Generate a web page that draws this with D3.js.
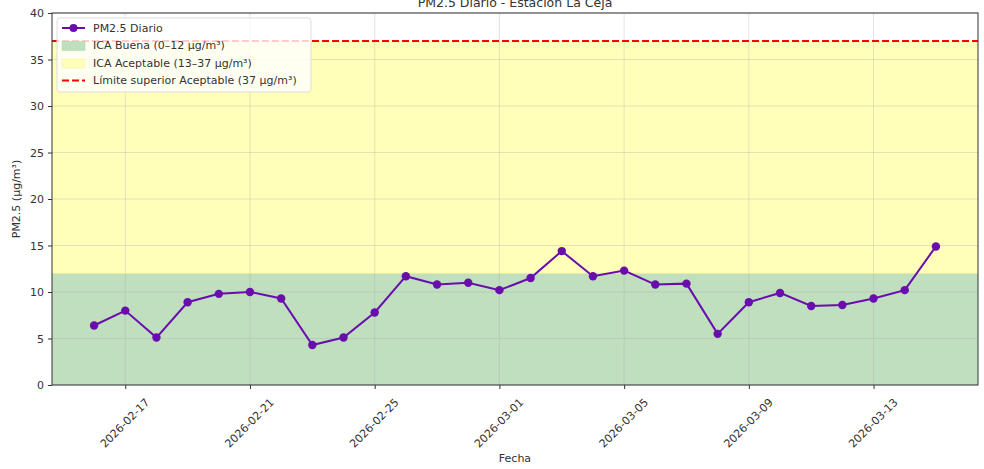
<!DOCTYPE html>
<html>
<head>
<meta charset="utf-8">
<script src="https://cdn.jsdelivr.net/npm/d3@7"></script>
<style>
  body { margin: 0; background: #fff; }
  text { font-family: "DejaVu Sans", sans-serif; fill: #333; }
</style>
</head>
<body>
<div id="chart"></div>
<script>
// daily PM2.5, 2026-02-16 .. 2026-03-15
var dates = ["2026-02-16","2026-02-17","2026-02-18","2026-02-19","2026-02-20","2026-02-21","2026-02-22",
  "2026-02-23","2026-02-24","2026-02-25","2026-02-26","2026-02-27","2026-02-28","2026-03-01",
  "2026-03-02","2026-03-03","2026-03-04","2026-03-05","2026-03-06","2026-03-07","2026-03-08",
  "2026-03-09","2026-03-10","2026-03-11","2026-03-12","2026-03-13","2026-03-14","2026-03-15"];
var pm25 = [6.4, 8.0, 5.1, 8.9, 9.8, 10.0, 9.3,
  4.3, 5.1, 7.8, 11.7, 10.8, 11.0, 10.2,
  11.5, 14.4, 11.7, 12.3, 10.8, 10.9, 5.5,
  8.9, 9.9, 8.5, 8.6, 9.3, 10.2, 14.9];
var xTickLabels = ["2026-02-17","2026-02-21","2026-02-25","2026-03-01","2026-03-05","2026-03-09","2026-03-13"];
var yTicks = [0, 5, 10, 15, 20, 25, 30, 35, 40];
var bands = [
  {name: "ICA Buena (0\u201312 \u00b5g/m\u00b3)", lo: 0, hi: 12, color: "rgb(191,223,191)"},
  {name: "ICA Aceptable (13\u201337 \u00b5g/m\u00b3)", lo: 12, hi: 37, color: "rgb(255,255,185)"}
];
var limit = 37;

var W = 984, H = 469;
var margin = {top: 13, right: 6, bottom: 84, left: 52};
var w = W - margin.left - margin.right,
    h = H - margin.top - margin.bottom;

var parse = d3.utcParse("%Y-%m-%d");
var data = dates.map(function(d, i){ return {date: parse(d), v: pm25[i]}; });

var svg = d3.select("#chart").append("svg")
  .attr("width", W).attr("height", H);

// title (partly off the top, as in the picture)
svg.append("text")
  .attr("x", margin.left + w/2).attr("y", 7)
  .attr("text-anchor", "middle")
  .style("font-size", "12.5px")
  .text("PM2.5 Diario - Estaci\u00f3n La Ceja");

var g = svg.append("g").attr("transform", "translate(" + margin.left + "," + margin.top + ")");

var ext = d3.extent(data, function(d){ return d.date; });
var pad = (ext[1] - ext[0]) * 0.05;
var x = d3.scaleUtc().domain([new Date(+ext[0] - pad), new Date(+ext[1] + pad)]).range([0, w]);
var y = d3.scaleLinear().domain([0, 40]).range([h, 0]);

// bands
g.selectAll(".band").data(bands).enter().append("rect")
  .attr("class", "band")
  .attr("x", 0).attr("width", w)
  .attr("y", function(d){ return y(d.hi); })
  .attr("height", function(d){ return y(d.lo) - y(d.hi); })
  .attr("fill", function(d){ return d.color; });
g.append("line")
  .attr("x1", 0).attr("x2", w).attr("y1", y(12)).attr("y2", y(12))
  .attr("stroke", "#e6ee9c").attr("stroke-width", 1);

// grid
var xTicks = xTickLabels.map(parse);
g.selectAll(".gx").data(xTicks).enter().append("line")
  .attr("x1", function(d){ return x(d); }).attr("x2", function(d){ return x(d); })
  .attr("y1", 0).attr("y2", h)
  .attr("stroke", "#b0b0b0").attr("stroke-opacity", 0.35);
g.selectAll(".gy").data(yTicks).enter().append("line")
  .attr("y1", function(d){ return y(d); }).attr("y2", function(d){ return y(d); })
  .attr("x1", 0).attr("x2", w)
  .attr("stroke", "#b0b0b0").attr("stroke-opacity", 0.35);

// limit line
g.append("line")
  .attr("x1", 0).attr("x2", w).attr("y1", y(limit)).attr("y2", y(limit))
  .attr("stroke", "red").attr("stroke-width", 2).attr("stroke-dasharray", "7,3");

// series
var purple = "#6a0dad";
g.append("path").datum(data)
  .attr("fill", "none").attr("stroke", purple).attr("stroke-width", 2)
  .attr("d", d3.line().x(function(d){ return x(d.date); }).y(function(d){ return y(d.v); }));
g.selectAll(".pt").data(data).enter().append("circle")
  .attr("cx", function(d){ return x(d.date); })
  .attr("cy", function(d){ return y(d.v); })
  .attr("r", 4.2).attr("fill", purple);

// frame
g.append("rect").attr("width", w).attr("height", h)
  .attr("fill", "none").attr("stroke", "#333").attr("stroke-width", 1);

// axes
var yAxis = g.append("g").call(d3.axisLeft(y).tickValues(yTicks).tickSize(4).tickPadding(4));
var xAxis = g.append("g").attr("transform", "translate(0," + h + ")")
  .call(d3.axisBottom(x).tickValues(xTicks).tickSize(4).tickFormat(d3.utcFormat("%Y-%m-%d")));
[xAxis, yAxis].forEach(function(a){
  a.select(".domain").remove();
  a.selectAll("line").attr("stroke", "#333");
  a.selectAll("text").style("font-size", "11px").attr("fill", "#333");
});
xAxis.selectAll("text")
  .attr("y", 0).attr("dy", "0.35em")
  .attr("text-anchor", "middle")
  .attr("transform", "translate(-1,38) rotate(-45)");

// axis labels
svg.append("text")
  .attr("x", margin.left + w/2).attr("y", 462)
  .attr("text-anchor", "middle").style("font-size", "11px")
  .text("Fecha");
svg.append("text")
  .attr("transform", "translate(20," + (margin.top + h/2) + ") rotate(-90)")
  .attr("text-anchor", "middle").style("font-size", "11px")
  .text("PM2.5 (\u00b5g/m\u00b3)");

// legend
var lg = g.append("g").attr("transform", "translate(5,5)");
lg.append("rect").attr("width", 254).attr("height", 74).attr("rx", 3)
  .attr("fill", "#fff").attr("fill-opacity", 0.8)
  .attr("stroke", "#ddd");
var items = [
  {type: "line", name: "PM2.5 Diario"},
  {type: "band", name: bands[0].name, color: bands[0].color},
  {type: "band", name: bands[1].name, color: bands[1].color},
  {type: "dash", name: "L\u00edmite superior Aceptable (37 \u00b5g/m\u00b3)"}
];
items.forEach(function(it, i){
  var yy = 10 + i * 17.5;
  var row = lg.append("g").attr("transform", "translate(0," + yy + ")");
  if (it.type === "line") {
    row.append("line").attr("x1", 5).attr("x2", 28).attr("stroke", purple).attr("stroke-width", 2);
    row.append("circle").attr("cx", 16.5).attr("r", 4).attr("fill", purple);
  } else if (it.type === "band") {
    row.append("rect").attr("x", 5).attr("y", -4).attr("width", 23).attr("height", 9).attr("fill", it.color)
      .attr("stroke", i === 1 ? "#a5d6a7" : "#f0f4a0").attr("stroke-width", 0.5);
  } else {
    row.append("line").attr("x1", 5).attr("x2", 28).attr("stroke", "red").attr("stroke-width", 2)
      .attr("stroke-dasharray", "7,3");
  }
  row.append("text").attr("x", 36).attr("dy", "0.35em").style("font-size", "11px").text(it.name);
});
</script>
</body>
</html>
